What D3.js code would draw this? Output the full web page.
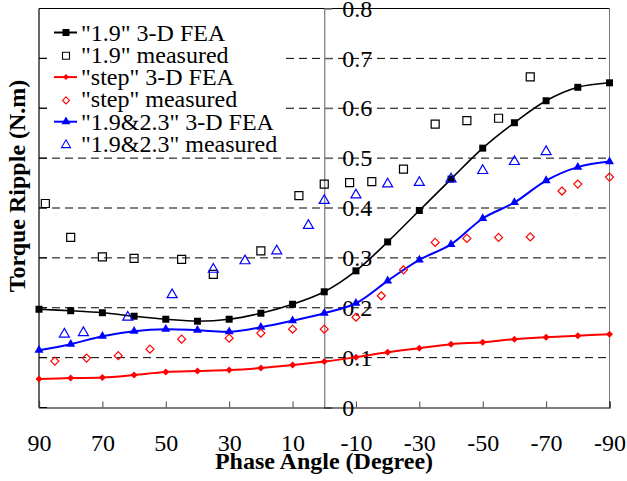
<!DOCTYPE html>
<html>
<head>
<meta charset="utf-8">
<script src="https://cdn.jsdelivr.net/npm/d3@7/dist/d3.min.js"></script>
<style>
  html, body { margin: 0; padding: 0; background: #fff; }
  svg { display: block; font-family: "Liberation Serif", "Times New Roman", serif; }
</style>
</head>
<body>
<svg id="chart" width="627" height="481"></svg>
<script>
// Phase angle sweep of the FEA runs (degrees)
const feaAngles = [90, 80, 70, 60, 50, 40, 30, 20, 10, 0, -10, -20, -30, -40, -50, -60, -70, -80, -90];

// "1.9" design
const fea19 = [0.197, 0.194, 0.190, 0.183, 0.177, 0.173, 0.177, 0.189, 0.207, 0.232, 0.274, 0.332, 0.395, 0.458, 0.520, 0.571, 0.615, 0.642, 0.651];
const meas19Angles = [88, 80, 70, 60, 45, 35, 20, 8, 0, -8, -15, -25, -35, -45, -55, -65];
const meas19 = [0.409, 0.341, 0.302, 0.299, 0.297, 0.267, 0.314, 0.425, 0.448, 0.451, 0.453, 0.478, 0.568, 0.575, 0.580, 0.663];

// "step" design
const feaStep = [0.057, 0.059, 0.060, 0.065, 0.071, 0.073, 0.075, 0.079, 0.085, 0.092, 0.101, 0.111, 0.119, 0.127, 0.131, 0.137, 0.141, 0.144, 0.147];
const measStepAngles = [85, 75, 65, 55, 45, 30, 20, 10, 0, -10, -18, -25, -35, -45, -55, -65, -75, -80, -90];
const measStep = [0.093, 0.099, 0.104, 0.117, 0.137, 0.139, 0.149, 0.157, 0.157, 0.181, 0.224, 0.276, 0.331, 0.339, 0.341, 0.342, 0.434, 0.448, 0.462];

// "1.9&2.3" design
const fea1923 = [0.115, 0.127, 0.143, 0.153, 0.157, 0.155, 0.152, 0.161, 0.174, 0.189, 0.209, 0.254, 0.296, 0.327, 0.379, 0.411, 0.455, 0.482, 0.493];
const meas1923Angles = [82, 76, 62, 48, 35, 25, 15, 5, 0, -10, -20, -30, -40, -50, -60, -70];
const meas1923 = [0.147, 0.150, 0.181, 0.226, 0.277, 0.294, 0.314, 0.365, 0.415, 0.426, 0.448, 0.451, 0.458, 0.475, 0.493, 0.513];

// Axis ticks
const xTickValues = [90, 70, 50, 30, 10, -10, -30, -50, -70, -90];
const yTickValues = [0, 0.1, 0.2, 0.3, 0.4, 0.5, 0.6, 0.7, 0.8];

const legendLabels = ['"1.9" 3-D FEA', '"1.9" measured', '"step" 3-D FEA', '"step" measured', '"1.9&2.3" 3-D FEA', '"1.9&2.3" measured'];

const svg = d3.select("#chart");
const x = d3.scaleLinear().domain([90, -90]).range([39, 609.5]);
const y = d3.scaleLinear().domain([0, 0.8]).range([407.5, 8.5]);
const [x0, x1] = x.range();
const [yB, yT] = y.range();

// dashed horizontal grid
svg.append("g").selectAll("line")
  .data(yTickValues.filter(v => v > 0 && v < 0.8))
  .join("line")
  .attr("x1", x0).attr("x2", x1)
  .attr("y1", d => y(d)).attr("y2", d => y(d))
  .attr("stroke", "#000").attr("stroke-width", 1)
  .attr("stroke-dasharray", "8,5");

// white legend backdrop hides the grid behind it
svg.append("rect").attr("x", 48).attr("y", yT + 1).attr("width", 236).attr("height", 143).attr("fill", "#fff");

// plot frame
svg.append("line").attr("x1", x0).attr("x2", x1).attr("y1", yT).attr("y2", yT).attr("stroke", "#000");
svg.append("line").attr("x1", x1).attr("x2", x1).attr("y1", yT).attr("y2", yB).attr("stroke", "#777");
svg.append("line").attr("x1", x0).attr("x2", x0).attr("y1", yT).attr("y2", yB).attr("stroke", "#000").attr("stroke-width", 1.2);

// left edge ticks
svg.append("g").selectAll("line").data(yTickValues).join("line")
  .attr("x1", x0).attr("x2", x0 + 8)
  .attr("y1", d => y(d)).attr("y2", d => y(d))
  .attr("stroke", "#000");

// y axis through phase angle 0
const yAxis = d3.axisRight(y).tickValues(yTickValues).tickSize(8).tickPadding(10)
  .tickFormat(d => String(+d.toFixed(1)));
const gy = svg.append("g").attr("transform", `translate(${x(0)},0)`).call(yAxis);
gy.attr("font-family", null);
gy.select(".domain").attr("stroke", "#777").attr("stroke-width", 1.2);
gy.selectAll(".tick line").attr("stroke", "#777");
gy.selectAll(".tick text").attr("font-size", 24).attr("fill", "#000")
  .attr("font-family", "Liberation Serif, serif");

// bottom axis, ticks pointing up; labels use a plain hyphen for negatives
const xAxis = d3.axisBottom(x).tickValues(xTickValues).tickSize(-6).tickPadding(0).tickFormat(d => String(d));
const gx = svg.append("g").attr("transform", `translate(0,${yB})`).call(xAxis);
gx.attr("font-family", null);
gx.select(".domain").attr("stroke", "#000").attr("stroke-width", 1.2);
gx.selectAll(".tick line").attr("stroke", "#444");
gx.selectAll(".tick text").attr("font-size", 24).attr("fill", "#000")
  .attr("font-family", "Liberation Serif, serif")
  .attr("y", 43.5).attr("dy", 0);

// axis titles
svg.append("text").attr("x", 324).attr("y", 469).attr("text-anchor", "middle")
  .attr("font-size", 24).attr("font-weight", "bold").text("Phase Angle (Degree)");
svg.append("text").attr("transform", "translate(25,186) rotate(-90)").attr("text-anchor", "middle")
  .attr("font-size", 24).attr("font-weight", "bold").text("Torque Ripple (N.m)");

// marker shapes; diamonds are squares turned by 45 degrees
const square = s => d3.symbol().type(d3.symbolSquare).size(s * s)();
const diamond = s => {
  const r = s / 2;
  return `M0,${-r}L${r},0L0,${r}L${-r},0Z`;
};
const triangle = s => d3.symbol().type(d3.symbolTriangle).size(s * s * 0.433)();

const sym = {
  sqFill: square(7),
  sqOpen: square(8),
  dmFill: diamond(7),
  dmOpen: diamond(8),
  trFill: triangle(9),
  trOpen: triangle(10)
};

const line = d3.line().x(d => x(d[0])).y(d => y(d[1])).curve(d3.curveCatmullRom.alpha(0.5));

function feaSeries(vals, color, width, shape) {
  const pts = feaAngles.map((a, i) => [a, vals[i]]);
  svg.append("path").datum(pts).attr("d", line)
    .attr("fill", "none").attr("stroke", color).attr("stroke-width", width);
  svg.append("g").selectAll("path").data(pts).join("path")
    .attr("transform", d => `translate(${x(d[0])},${y(d[1])})`)
    .attr("d", shape).attr("fill", color);
}
function measSeries(angles, vals, color, shape) {
  svg.append("g").selectAll("path").data(angles.map((a, i) => [a, vals[i]])).join("path")
    .attr("transform", d => `translate(${x(d[0])},${y(d[1])})`)
    .attr("d", shape).attr("fill", "none").attr("stroke", color).attr("stroke-width", 1.2);
}

feaSeries(feaStep, "#ff0000", 2, sym.dmFill);
feaSeries(fea1923, "#0000ff", 2, sym.trFill);
feaSeries(fea19, "#000", 1.6, sym.sqFill);
measSeries(meas19Angles, meas19, "#000", sym.sqOpen);
measSeries(measStepAngles, measStep, "#ff0000", sym.dmOpen);
measSeries(meas1923Angles, meas1923, "#0000ff", sym.trOpen);

// legend
const legendItems = [
  { color: "#000", shape: sym.sqFill, filled: true },
  { color: "#000", shape: square(7), filled: false },
  { color: "#ff0000", shape: diamond(6), filled: true },
  { color: "#ff0000", shape: diamond(7), filled: false },
  { color: "#0000ff", shape: triangle(9), filled: true },
  { color: "#0000ff", shape: triangle(9), filled: false }
];
const lg = svg.append("g");
legendItems.forEach((it, i) => {
  const cy = 32.5 + i * 22.3;
  const row = lg.append("g").attr("transform", `translate(0,${cy})`);
  if (it.filled) {
    row.append("line").attr("x1", 54).attr("x2", 77).attr("stroke", it.color).attr("stroke-width", 2);
    row.append("path").attr("transform", "translate(66,0)").attr("d", it.shape).attr("fill", it.color);
  } else {
    row.append("path").attr("transform", "translate(66,1)").attr("d", it.shape)
      .attr("fill", "none").attr("stroke", it.color).attr("stroke-width", 1.1);
  }
  row.append("text").attr("x", 81).attr("y", 8).attr("font-size", 24).attr("fill", "#000").text(legendLabels[i]);
});
</script>
</body>
</html>
